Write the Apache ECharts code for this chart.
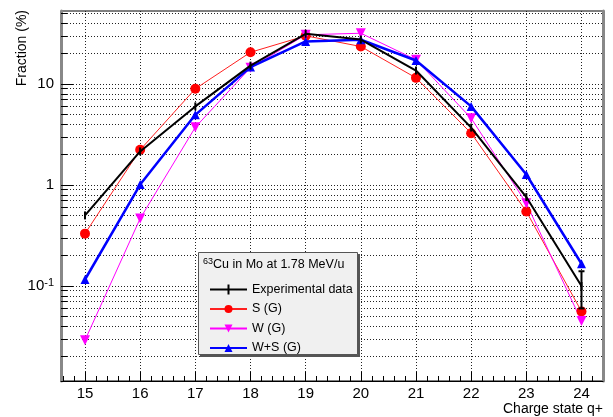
<!DOCTYPE html>
<html>
<head>
<meta charset="utf-8">
<script src="https://cdn.jsdelivr.net/npm/echarts@6/dist/echarts.min.js"></script>
<style>html,body{margin:0;padding:0;background:#fff}#c{width:613px;height:417px}</style>
</head>
<body>
<div id="c"></div>
<script>
// ---- data ----
const chargeStates = [15, 16, 17, 18, 19, 20, 21, 22, 23, 24];
const expData  = [0.50, 2.15, 6.0, 15.2, 31.4, 27.5, 13.6, 3.7, 0.76, 0.10];
const sData    = [0.33, 2.23, 8.96, 20.6, 30.0, 23.5, 11.5, 3.26, 0.547, 0.056];
const wData    = [0.029, 0.466, 3.73, 14.5, 30.7, 31.8, 17.4, 4.58, 0.66, 0.045];
const wsData   = [0.116, 1.01, 4.95, 14.7, 26.4, 27.4, 17.1, 6.0, 1.27, 0.166];
const expErrLow  = [null, null, null, null, null, null, null, null, null, 0.06];
const expErrHigh = [null, null, null, null, null, null, null, null, null, 0.14];
const xTickLabels = [15, 16, 17, 18, 19, 20, 21, 22, 23, 24];
const yMajorTicks = [0.1, 1, 10];
const yTickLabels = ['{b|10}{s|-1}', '{b|1}', '{b|10}'];
const seriesNames = ['Experimental data', 'S (G)', 'W (G)', 'W+S (G)'];
const legendTitle = 'Cu in Mo at 1.78 MeV/u';
const legendTitleSup = '63';

// ---- axis helpers ----
const X_MIN = 14.565, X_MAX = 24.39;
const Y_MIN = 0.01147, Y_MAX = 52.8;
const xMinor = [];
for (let i = 73; i <= 121; i++) { const v = i / 5; if (i % 5 !== 0) xMinor.push(+v.toFixed(1)); }
const yAll = [];
[0.01, 0.1, 1, 10].forEach(d => { for (let k = 1; k <= 9; k++) { const v = +(k * d).toPrecision(3); if (v >= Y_MIN && v <= Y_MAX) yAll.push(v); } });

const pts = arr => chargeStates.map((x, i) => [x, arr[i]]);
const errPts = chargeStates.map((x, i) => [x, expErrLow[i], expErrHigh[i]]).filter(d => d[1] != null);

const FONT = '"Liberation Sans", Arial, Helvetica, sans-serif';
const chart = echarts.init(document.getElementById('c'), null, {renderer: 'canvas'});
const gridBox = {left: 61, top: 11, width: 542, height: 370};
const expIcon = 'path://M0,4H17.5V0H19.5V4H37V6H19.5V10H17.5V6H0Z';

chart.setOption({
  animation: false,
  backgroundColor: '#ffffff',
  grid: Object.assign({show: true, borderColor: '#000', borderWidth: 1, backgroundColor: 'transparent', containLabel: false}, gridBox),
  xAxis: [
    {type: 'value', min: X_MIN, max: X_MAX, position: 'bottom',
     axisLine: {show: true, onZero: false, lineStyle: {color: '#000', width: 1}},
     axisTick: {show: true, inside: true, length: 9, customValues: xTickLabels, lineStyle: {color: '#000', width: 1}},
     axisLabel: {show: true, customValues: xTickLabels, margin: 5, color: '#000', fontSize: 15, fontFamily: FONT},
     splitLine: {show: true, lineStyle: {color: '#222', width: 1, type: [1, 2]}},
     name: 'Charge state q+', nameLocation: 'end', nameGap: 0,
     nameTextStyle: {align: 'right', verticalAlign: 'top', padding: [21, 0, 0, 0], fontSize: 14, fontFamily: FONT, color: '#000'}},
    {type: 'value', min: X_MIN, max: X_MAX, position: 'bottom',
     axisLine: {show: false, onZero: false},
     axisTick: {show: true, inside: true, length: 5, customValues: xMinor, lineStyle: {color: '#000', width: 1}},
     axisLabel: {show: false}, splitLine: {show: false}}
  ],
  yAxis: [
    {type: 'log', logBase: 10, min: Y_MIN, max: Y_MAX, position: 'left',
     axisLine: {show: true, onZero: false, lineStyle: {color: '#888', width: 3}},
     axisTick: {show: true, inside: true, length: 6, customValues: yAll, lineStyle: {color: '#000', width: 1}},
     axisLabel: {show: true, customValues: yMajorTicks, margin: 7, color: '#000',
       formatter: v => yTickLabels[yMajorTicks.indexOf(+(+v).toPrecision(3))] || '',
       rich: {b: {fontSize: 15, fontFamily: FONT, color: '#000', lineHeight: 18},
              s: {fontSize: 11, fontFamily: FONT, color: '#000', verticalAlign: 'top', lineHeight: 18, padding: [0, 0, 6, 0]}}},
     splitLine: {show: true, lineStyle: {color: '#222', width: 1, type: [1, 2]}}},
    {type: 'log', logBase: 10, min: Y_MIN, max: Y_MAX, position: 'left',
     axisLine: {show: false, onZero: false},
     axisTick: {show: true, inside: true, length: 12, customValues: yMajorTicks, lineStyle: {color: '#000', width: 1}},
     axisLabel: {show: false}, splitLine: {show: false}},
    {type: 'log', logBase: 10, min: Y_MIN, max: Y_MAX, position: 'right',
     axisLine: {show: true, onZero: false, lineStyle: {color: '#888', width: 3}},
     axisTick: {show: false}, axisLabel: {show: false}, splitLine: {show: false}}
  ],
  legend: {
    show: true, orient: 'vertical', left: 204, top: 278, z: 10,
    itemWidth: 37, itemHeight: 10, itemGap: 6.5,
    data: [{name: seriesNames[0], icon: expIcon}, seriesNames[1], seriesNames[2], seriesNames[3]],
    textStyle: {fontSize: 12.5, fontFamily: FONT, color: '#000', lineHeight: 13},
    backgroundColor: 'transparent'
  },
  graphic: [
    {type: 'text', x: 22, y: 10, rotation: Math.PI / 2, z: 10,
     style: {text: 'Fraction (%)', align: 'right', verticalAlign: 'middle', fontSize: 14, fontFamily: FONT, fill: '#000'}},
    {type: 'rect', shape: {x: 200, y: 254, width: 160, height: 103}, z: 8, silent: true,
     style: {fill: '#555'}},
    {type: 'rect', shape: {x: 198.5, y: 252.5, width: 159, height: 102}, z: 9, silent: true,
     style: {fill: '#f0f0f0', stroke: '#555', lineWidth: 1}},
    {type: 'text', x: 203, y: 265, z: 10,
     style: {text: '{sup|' + legendTitleSup + '}{t|' + legendTitle + '}', verticalAlign: 'middle',
       rich: {sup: {fontSize: 9, fontFamily: FONT, fill: '#000', verticalAlign: 'top', lineHeight: 16, padding: [0, 0, 7, 0]},
              t: {fontSize: 12.5, fontFamily: FONT, fill: '#000', lineHeight: 16}}}}
  ],
  series: [
    {name: seriesNames[0], type: 'line', data: pts(expData), z: 5,
     symbol: 'path://M0,0L1,0L1,10L0,10Z', symbolSize: [2, 8], showSymbol: true,
     itemStyle: {color: '#000'}, lineStyle: {color: '#000', width: 2}},
    {name: seriesNames[1], type: 'line', data: pts(sData), z: 3,
     symbol: 'circle', symbolSize: 10,
     itemStyle: {color: '#ff0000'}, lineStyle: {color: '#ff2020', width: 1}},
    {name: seriesNames[2], type: 'line', data: pts(wData), z: 3,
     symbol: 'triangle', symbolRotate: 180, symbolSize: 10,
     itemStyle: {color: '#ff00ff'}, lineStyle: {color: '#ff00ff', width: 1}},
    {name: seriesNames[3], type: 'line', data: pts(wsData), z: 4,
     symbol: 'triangle', symbolSize: 9,
     itemStyle: {color: '#0000ff'}, lineStyle: {color: '#0000ff', width: 2.5}},
    {name: 'err', type: 'custom', data: errPts, z: 6,
     renderItem: function (params, api) {
       const lo = api.coord([api.value(0), api.value(1)]);
       const hi = api.coord([api.value(0), api.value(2)]);
       const cap = 3;
       return {type: 'group', children: [
         {type: 'line', shape: {x1: lo[0], y1: lo[1], x2: hi[0], y2: hi[1]}, style: {stroke: '#000', lineWidth: 2}},
         {type: 'line', shape: {x1: hi[0] - cap, y1: hi[1], x2: hi[0] + cap, y2: hi[1]}, style: {stroke: '#000', lineWidth: 2}},
         {type: 'line', shape: {x1: lo[0] - cap, y1: lo[1], x2: lo[0] + cap, y2: lo[1]}, style: {stroke: '#000', lineWidth: 2}}
       ]};
     }}
  ]
});
</script>
</body>
</html>
